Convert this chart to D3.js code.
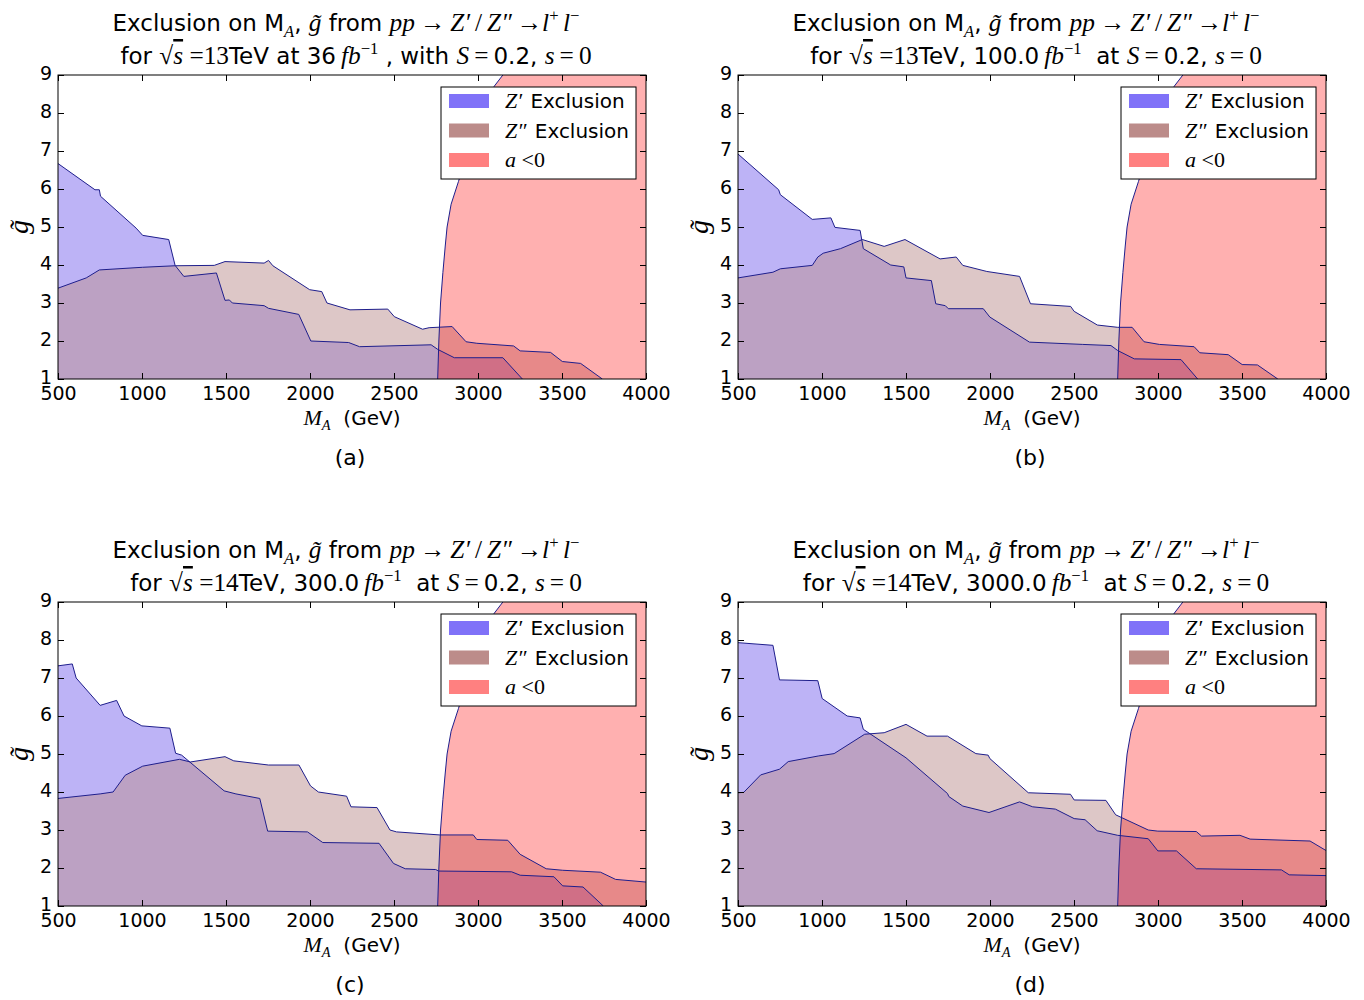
<!DOCTYPE html>
<html>
<head>
<meta charset="utf-8">
<script src="https://cdn.jsdelivr.net/npm/d3@7"></script>
<style>
  body { margin:0; background:#fff; }
  svg { display:block; }
  text { white-space: pre; }
</style>
</head>
<body>
<svg id="chart" width="1364" height="1000"></svg>
<script>
// axis ticks
var xTicks = [500,1000,1500,2000,2500,3000,3500,4000]
var yTicks = [1,2,3,4,5,6,7,8,9]

// a<0 boundary, [g, M_A], same in every panel
var aNegEdge = [[1,2760],[2,2767],[3,2777],[3.8,2791],[4.5,2805],[5,2816],[5.6,2840],
                [6.2,2884],[7,2940],[8,3025],[8.7,3096],[9,3148]]

// (a) 13 TeV, 36 fb^-1, [M_A, g]
var zPrimeA = [[500,6.67],[720,5.98],[746,5.98],[753,5.81],[965,4.97],[1004,4.78],[1159,4.67],
  [1197,3.99],[1249,3.70],[1443,3.79],[1494,3.07],[1520,3.08],[1538,3.0],[1727,2.93],[1753,2.86],
  [1933,2.70],[2005,2.0],[2230,1.96],[2295,1.85],[2721,1.90],[2760,1.78],[2859,1.56],[3148,1.56],[3264,1.0]]
var zDoubleA = [[500,3.39],[668,3.66],[746,3.87],[1004,3.94],[1197,3.98],[1430,3.99],[1494,4.09],
  [1727,4.05],[1753,4.12],[1779,3.98],[1998,3.35],[2070,3.30],[2101,3.0],[2238,2.82],[2463,2.84],
  [2502,2.64],[2670,2.31],[2709,2.35],[2846,2.38],[2929,1.98],[2993,1.94],[3212,1.87],[3251,1.74],
  [3432,1.70],[3502,1.46],[3611,1.41],[3740,1.0]]

// (b) 13 TeV, 100 fb^-1
var zPrimeB = [[500,6.92],[742,5.98],[752,5.85],[942,5.20],[1053,5.24],[1077,4.99],[1227,4.91],
  [1246,4.43],[1409,4.0],[1487,3.95],[1500,3.66],[1651,3.59],[1677,2.98],[1734,2.93],[1752,2.85],
  [1960,2.85],[1999,2.63],[2235,1.97],[2552,1.91],[2720,1.88],[2760,1.75],[2859,1.53],[3137,1.51],[3236,1.0]]
var zDoubleB = [[500,3.66],[708,3.81],[752,3.90],[942,3.99],[975,4.21],[1007,4.31],[1110,4.43],
  [1240,4.67],[1370,4.49],[1494,4.67],[1703,4.16],[1799,4.21],[1838,3.99],[1981,3.83],[2176,3.70],
  [2241,2.98],[2480,2.91],[2501,2.78],[2639,2.42],[2760,2.36],[2846,2.36],[2917,1.98],[3008,1.91],
  [3215,1.85],[3249,1.69],[3418,1.64],[3501,1.38],[3592,1.37],[3713,1.0]]

// (c) 14 TeV, 300 fb^-1
var zPrimeC = [[500,7.32],[585,7.37],[608,7.0],[751,6.28],[849,6.41],[893,6.0],[999,5.74],
  [1166,5.68],[1200,5.02],[1236,4.97],[1489,4.03],[1559,3.95],[1701,3.83],[1748,2.97],[1985,2.95],
  [2076,2.67],[2411,2.65],[2497,2.12],[2567,1.98],[2748,1.96],[2766,1.92],[3200,1.90],[3251,1.81],
  [3452,1.77],[3504,1.53],[3625,1.50],[3746,1.0]]
var zDoubleC = [[500,3.83],[751,3.95],[828,4.0],[900,4.44],[1004,4.68],[1223,4.86],[1288,4.79],
  [1494,4.93],[1546,4.82],[1753,4.71],[1934,4.71],[2003,4.16],[2050,4.0],[2218,3.89],[2244,3.61],
  [2399,3.59],[2476,3.0],[2515,2.95],[2773,2.87],[2972,2.87],[2993,2.75],[3177,2.73],[3251,2.36],
  [3406,1.98],[3504,1.94],[3729,1.89],[3819,1.70],[4000,1.63]]

// (d) 14 TeV, 3000 fb^-1
var zPrimeD = [[500,7.93],[708,7.86],[747,6.95],[975,6.93],[1001,6.46],[1150,6.0],[1227,5.95],
  [1246,5.65],[1500,4.90],[1747,3.96],[1755,3.88],[1838,3.63],[1994,3.46],[2176,3.74],[2254,3.61],
  [2389,3.55],[2501,3.30],[2566,3.27],[2638,2.98],[2760,2.86],[2942,2.77],[2999,2.45],[3110,2.45],
  [3228,1.98],[3735,1.95],[3781,1.82],[4000,1.80]]
var zDoubleD = [[500,3.98],[534,3.99],[635,4.45],[747,4.60],[799,4.80],[981,4.95],[1072,5.01],
  [1254,5.52],[1370,5.56],[1500,5.78],[1625,5.47],[1747,5.47],[1916,5.01],[1989,4.97],[1999,4.88],
  [2228,3.98],[2479,3.94],[2501,3.79],[2690,3.78],[2748,3.40],[2942,3.0],[2999,2.97],[3228,2.96],
  [3259,2.84],[3488,2.86],[3548,2.76],[3905,2.71],[4000,2.46]]

var SANS = "DejaVu Sans"
var SERIF = "Liberation Serif, DejaVu Serif"
var edgeColor = "#1e1e8c"

var line1 = [
  {t:"Exclusion on M"},{t:"A",f:"mi",sub:1},{t:", "},{t:"g\u0303",f:"mi"},{t:" from "},
  {t:"pp",f:"mi"},{t:"\u2009\u2192\u2009",f:"m"},{t:"Z\u2032",f:"mi"},{t:"\u2009/\u2009",f:"m"},{t:"Z\u2033",f:"mi"},
  {t:"\u2009\u2192",f:"m"},{t:"l",f:"mi"},{t:"+",f:"m",sup:1},{t:"\u2009"},{t:"l",f:"mi"},{t:"\u2212",f:"m",sup:1}
]
function line2(energy, lumi) {
  var segs = [{t:"for "},{t:"\u221a",f:"m"},{t:"s",f:"mi",over:1},{t:" =",f:"m"},{t:energy,f:"m"},{t:"TeV"}]
  return segs.concat(lumi).concat([{t:"S",f:"mi"},{t:"\u2009=\u2009",f:"m"},{t:"0.2, "},{t:"s",f:"mi"},{t:"\u2009=\u20090",f:"m"}])
}

var panels = [
  {tag:"(a)", left:58, top:75, zp:zPrimeA, zpp:zDoubleA,
   l2: line2("13", [{t:" at 36"},{t:"\u2009fb",f:"mi"},{t:"\u22121",f:"m",sup:1},{t:" , with "}])},
  {tag:"(b)", left:738, top:75, zp:zPrimeB, zpp:zDoubleB,
   l2: line2("13", [{t:", 100.0"},{t:"\u2009fb",f:"mi"},{t:"\u22121",f:"m",sup:1},{t:"  at "}])},
  {tag:"(c)", left:58, top:602, zp:zPrimeC, zpp:zDoubleC,
   l2: line2("14", [{t:", 300.0"},{t:"\u2009fb",f:"mi"},{t:"\u22121",f:"m",sup:1},{t:"  at "}])},
  {tag:"(d)", left:738, top:602, zp:zPrimeD, zpp:zDoubleD,
   l2: line2("14", [{t:", 3000.0"},{t:"\u2009fb",f:"mi"},{t:"\u22121",f:"m",sup:1},{t:"  at "}])}
]

var W = 588, H = 304
var svg = d3.select("#chart")

// writes mixed sans / math text as tspans
var rich = function(text, segs, size) {
  var shift = 0
  segs.forEach(function(s) {
    var target = s.sub ? size*0.25 : (s.sup ? -size*0.42 : 0)
    var ts = text.append("tspan").text(s.t)
      .attr("dy", target - shift)
      .attr("font-family", s.f ? SERIF : SANS)
      .attr("font-style", s.f == "mi" ? "italic" : "normal")
      .attr("font-size", (s.sub || s.sup) ? size*0.72 : (s.f ? size*1.1 : size))
    if (s.over) ts.style("text-decoration", "overline")
    shift = target
  })
}

var drawPanel = function(p, i)
{
  var x = d3.scaleLinear().domain([500,4000]).range([0,W])
  var y = d3.scaleLinear().domain([1,9]).range([H,0])

  var g = svg.append("g").attr("transform","translate("+p.left+","+p.top+")")

  g.append("clipPath").attr("id","clip"+i)
    .append("rect").attr("width",W).attr("height",H)

  var plot = g.append("g").attr("clip-path","url(#clip"+i+")")

  var area = d3.area().x(function(d){return x(d[0])}).y0(y(1)).y1(function(d){return y(d[1])})
  var line = d3.line().x(function(d){return x(d[0])}).y(function(d){return y(d[1])})
  var redArea = d3.area().y(function(d){return y(d[0])})
    .x0(function(d){return x(d[1])}).x1(x(4000))
  var redLine = d3.line().x(function(d){return x(d[1])}).y(function(d){return y(d[0])})

  plot.append("path").attr("d",area(p.zp)).attr("fill","#7b68ee").attr("fill-opacity",0.5)
  plot.append("path").attr("d",area(p.zpp)).attr("fill","#bc8f8f").attr("fill-opacity",0.5)
  plot.append("path").attr("d",redArea(aNegEdge)).attr("fill","#ff0000").attr("fill-opacity",0.31)

  ;[p.zp, p.zpp].forEach(function(d) {
    plot.append("path").attr("d",line(d)).attr("fill","none")
      .attr("stroke",edgeColor).attr("stroke-width",1)
  })
  plot.append("path").attr("d",redLine(aNegEdge)).attr("fill","none")
    .attr("stroke",edgeColor).attr("stroke-width",1)

  // axes, ticks inside on all four sides
  var ax = function(a) { return a.tickSizeInner(-6).tickSizeOuter(0).tickPadding(6) }
  g.append("g").attr("class","xax").attr("transform","translate(0,"+H+")")
    .call(ax(d3.axisBottom(x).tickValues(xTicks).tickFormat(d3.format("d"))))
  g.append("g").attr("class","yax")
    .call(ax(d3.axisLeft(y).tickValues(yTicks).tickFormat(d3.format("d"))))
  g.append("g").call(ax(d3.axisTop(x).tickValues(xTicks).tickFormat("")))
  g.append("g").attr("transform","translate("+W+",0)")
    .call(ax(d3.axisRight(y).tickValues(yTicks).tickFormat("")))
  g.selectAll(".domain").remove()
  g.selectAll(".tick line").attr("stroke","#000")
  g.selectAll(".tick text").attr("font-family",SANS).attr("font-size",19).attr("fill","#000")
  g.selectAll(".yax .tick text").attr("dy","0.22em")
  g.selectAll(".xax .tick text").attr("y",8)
  g.append("rect").attr("width",W).attr("height",H)
    .attr("fill","none").attr("stroke","#000").attr("stroke-width",1)

  // titles
  rich(g.append("text").attr("x",W/2-6).attr("y",-44).attr("text-anchor","middle"), line1, 23)
  rich(g.append("text").attr("x",W/2+4).attr("y",-11).attr("text-anchor","middle"), p.l2, 23)

  rich(g.append("text").attr("x",W/2).attr("y",H+46).attr("text-anchor","middle"),
    [{t:"M",f:"mi"},{t:"A",f:"mi",sub:1},{t:"  (GeV)"}], 20)
  g.append("text").attr("x",W/2-2).attr("y",H+86).attr("text-anchor","middle")
    .attr("font-family",SANS).attr("font-size",22).text(p.tag)

  g.append("text").attr("transform","translate(-30,"+(H/2)+") rotate(-90)")
    .attr("text-anchor","middle").attr("font-family",SERIF).attr("font-style","italic")
    .attr("font-size",28).text("g\u0303")

  // legend
  var lg = g.append("g").attr("transform","translate("+(W-205)+",12)")
  lg.append("rect").attr("width",195).attr("height",92)
    .attr("fill","#fff").attr("stroke","#000").attr("stroke-width",1)
  var items = [
    {c:"#8072f8", segs:[{t:"Z\u2032",f:"mi"},{t:"\u200a Exclusion"}]},
    {c:"#bc8c8a", segs:[{t:"Z\u2033",f:"mi"},{t:"\u200a Exclusion"}]},
    {c:"#ff8080", segs:[{t:"a",f:"mi"},{t:" <0",f:"m"}]}
  ]
  items.forEach(function(it, k) {
    var cy = 14 + k*29.5
    lg.append("rect").attr("x",8).attr("y",cy-7).attr("width",40).attr("height",14).attr("fill",it.c)
    rich(lg.append("text").attr("x",64).attr("y",cy+7), it.segs, 20)
  })
}

panels.forEach(drawPanel)
</script>
</body>
</html>
